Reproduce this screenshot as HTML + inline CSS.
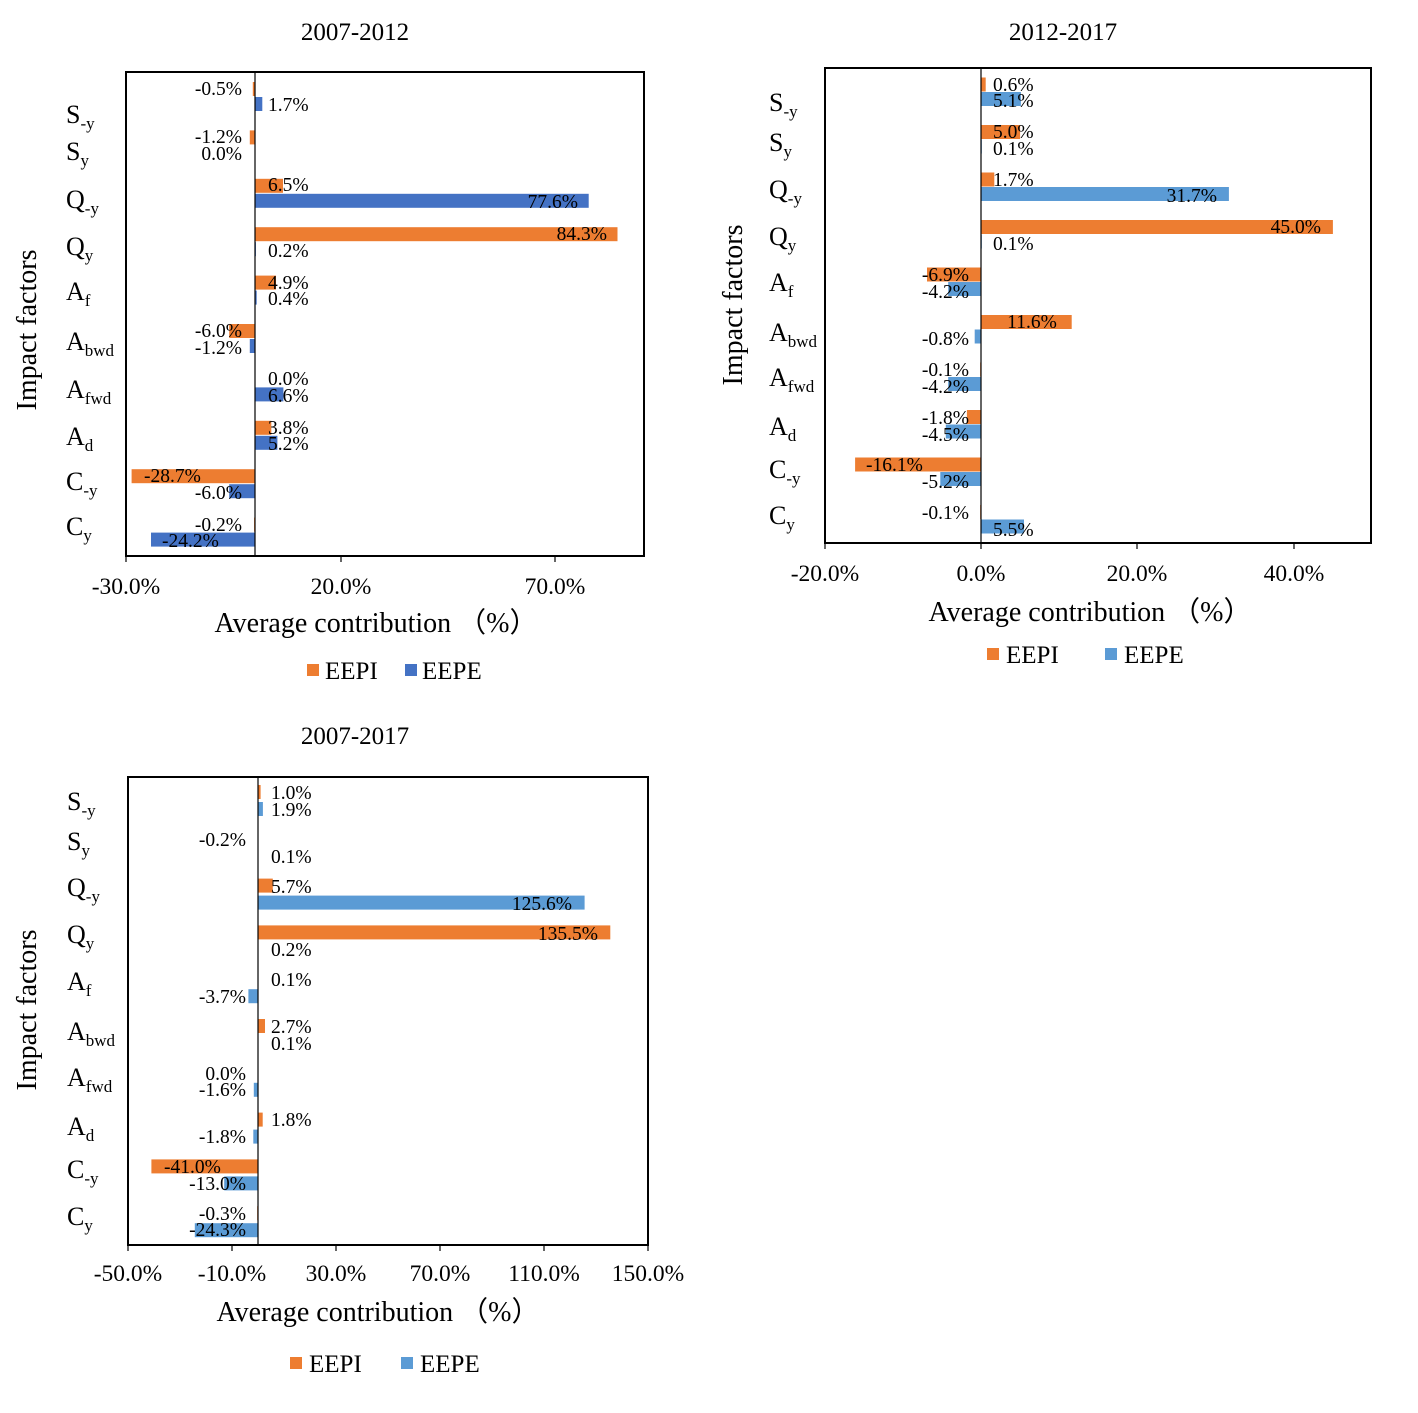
<!DOCTYPE html>
<html><head><meta charset="utf-8"><style>
html,body{margin:0;padding:0;background:#fff;}
svg{display:block;font-family:"Liberation Serif",serif;}
.d{font-size:19.5px;fill:#000}
.c{font-size:26px}
.s{font-size:17px}
.t{font-size:23.5px}
.ti{font-size:25px}
.a{font-size:28px}
.l{font-size:25px}
</style></head><body>
<svg width="1418" height="1413" viewBox="0 0 1418 1413" xmlns="http://www.w3.org/2000/svg">
<rect width="1418" height="1413" fill="#fff"/>

<!-- ================= CHART 1 ================= -->
<text x="355" y="40" class="ti" text-anchor="middle">2007-2012</text>
<g fill="#ED7D31">
<rect x="252.8" y="82" width="2.2" height="14"/>
<rect x="249.8" y="130.4" width="5.2" height="14"/>
<rect x="255" y="178.8" width="28" height="14"/>
<rect x="255" y="227.2" width="362.5" height="14"/>
<rect x="255" y="275.6" width="21" height="14"/>
<rect x="229.2" y="324" width="25.8" height="14"/>
<rect x="255" y="420.8" width="16.3" height="14"/>
<rect x="131.6" y="469.2" width="123.4" height="14"/>
<rect x="254.1" y="517.6" width="0.9" height="14"/>
</g>
<g fill="#4472C4">
<rect x="255" y="97" width="7.3" height="14"/>
<rect x="254.5" y="145.4" width="1" height="14"/>
<rect x="255" y="193.8" width="333.7" height="14"/>
<rect x="255" y="242.2" width="0.9" height="14"/>
<rect x="255" y="290.6" width="1.7" height="14"/>
<rect x="249.8" y="339" width="5.2" height="14"/>
<rect x="255" y="387.4" width="28.4" height="14"/>
<rect x="255" y="435.8" width="22.4" height="14"/>
<rect x="229.2" y="484.2" width="25.8" height="14"/>
<rect x="151" y="532.6" width="104" height="14"/>
</g>
<rect x="126" y="72" width="518" height="484" fill="none" stroke="#000" stroke-width="2"/>
<line x1="255" y1="72" x2="255" y2="556" stroke="#000" stroke-width="1.2"/>
<g stroke="#000" stroke-width="1.2"><line x1="126" y1="556" x2="126" y2="562"/><line x1="341" y1="556" x2="341" y2="562"/><line x1="555" y1="556" x2="555" y2="562"/></g>
<g class="d">
<text x="242" y="95" text-anchor="end">-0.5%</text>
<text x="268" y="111">1.7%</text>
<text x="242" y="143" text-anchor="end">-1.2%</text>
<text x="242" y="160" text-anchor="end">0.0%</text>
<text x="268" y="191">6.5%</text>
<text x="578" y="208" text-anchor="end">77.6%</text>
<text x="607" y="240" text-anchor="end">84.3%</text>
<text x="268" y="257">0.2%</text>
<text x="268" y="289">4.9%</text>
<text x="268" y="305">0.4%</text>
<text x="242" y="337" text-anchor="end">-6.0%</text>
<text x="242" y="354" text-anchor="end">-1.2%</text>
<text x="268" y="385">0.0%</text>
<text x="268" y="402">6.6%</text>
<text x="268" y="434">3.8%</text>
<text x="268" y="450">5.2%</text>
<text x="144" y="482">-28.7%</text>
<text x="242" y="499" text-anchor="end">-6.0%</text>
<text x="242" y="531" text-anchor="end">-0.2%</text>
<text x="162" y="547">-24.2%</text>
</g>
<g class="c">
<text x="66" y="123">S<tspan class="s" dy="6">-y</tspan></text>
<text x="66" y="160">S<tspan class="s" dy="6">y</tspan></text>
<text x="66" y="208">Q<tspan class="s" dy="6">-y</tspan></text>
<text x="66" y="255">Q<tspan class="s" dy="6">y</tspan></text>
<text x="66" y="300">A<tspan class="s" dy="6">f</tspan></text>
<text x="66" y="350">A<tspan class="s" dy="6">bwd</tspan></text>
<text x="66" y="398">A<tspan class="s" dy="6">fwd</tspan></text>
<text x="66" y="445">A<tspan class="s" dy="6">d</tspan></text>
<text x="66" y="490">C<tspan class="s" dy="6">-y</tspan></text>
<text x="66" y="535">C<tspan class="s" dy="6">y</tspan></text>
</g>
<text class="t" x="126" y="594" text-anchor="middle">-30.0%</text>
<text class="t" x="341" y="594" text-anchor="middle">20.0%</text>
<text class="t" x="555" y="594" text-anchor="middle">70.0%</text>
<text class="a" x="376" y="632" text-anchor="middle">Average contribution （%）</text>
<text class="a" transform="translate(36,330) rotate(-90)" text-anchor="middle">Impact factors</text>
<rect x="307" y="664" width="12" height="12" fill="#ED7D31"/><text class="l" x="325" y="679">EEPI</text>
<rect x="405" y="664" width="12" height="12" fill="#4472C4"/><text class="l" x="422" y="679">EEPE</text>

<!-- ================= CHART 2 ================= -->
<text x="1063" y="40" class="ti" text-anchor="middle">2012-2017</text>
<g fill="#ED7D31">
<rect x="981" y="77.5" width="4.7" height="14"/>
<rect x="981" y="125" width="39.1" height="14"/>
<rect x="981" y="172.5" width="13.3" height="14"/>
<rect x="981" y="220" width="351.9" height="14"/>
<rect x="927" y="267.5" width="54" height="14"/>
<rect x="981" y="315" width="90.7" height="14"/>
<rect x="980.2" y="362.5" width="0.8" height="14"/>
<rect x="966.9" y="410" width="14.1" height="14"/>
<rect x="855.1" y="457.5" width="125.9" height="14"/>
<rect x="980.2" y="505" width="0.8" height="14"/>
</g>
<g fill="#5B9BD5">
<rect x="981" y="92" width="39.9" height="14"/>
<rect x="981" y="139.5" width="0.8" height="14"/>
<rect x="981" y="187" width="247.9" height="14"/>
<rect x="981" y="234.5" width="0.8" height="14"/>
<rect x="948.2" y="282" width="32.8" height="14"/>
<rect x="974.7" y="329.5" width="6.3" height="14"/>
<rect x="948.2" y="377" width="32.8" height="14"/>
<rect x="945.8" y="424.5" width="35.2" height="14"/>
<rect x="940.3" y="472" width="40.7" height="14"/>
<rect x="981" y="519.5" width="43" height="14"/>
</g>
<rect x="825" y="68" width="546" height="475" fill="none" stroke="#000" stroke-width="2"/>
<line x1="981" y1="68" x2="981" y2="543" stroke="#000" stroke-width="1.2"/>
<g stroke="#000" stroke-width="1.2"><line x1="825" y1="543" x2="825" y2="549"/><line x1="981" y1="543" x2="981" y2="549"/><line x1="1137" y1="543" x2="1137" y2="549"/><line x1="1294" y1="543" x2="1294" y2="549"/></g>
<g class="d">
<text x="993" y="91">0.6%</text>
<text x="993" y="107">5.1%</text>
<text x="993" y="138">5.0%</text>
<text x="993" y="155">0.1%</text>
<text x="993" y="186">1.7%</text>
<text x="1217" y="202" text-anchor="end">31.7%</text>
<text x="1321" y="233" text-anchor="end">45.0%</text>
<text x="993" y="250">0.1%</text>
<text x="969" y="281" text-anchor="end">-6.9%</text>
<text x="969" y="298" text-anchor="end">-4.2%</text>
<text x="1032" y="328" text-anchor="middle">11.6%</text>
<text x="969" y="345" text-anchor="end">-0.8%</text>
<text x="969" y="376" text-anchor="end">-0.1%</text>
<text x="969" y="393" text-anchor="end">-4.2%</text>
<text x="969" y="424" text-anchor="end">-1.8%</text>
<text x="969" y="441" text-anchor="end">-4.5%</text>
<text x="866" y="471">-16.1%</text>
<text x="969" y="488" text-anchor="end">-5.2%</text>
<text x="969" y="519" text-anchor="end">-0.1%</text>
<text x="993" y="536">5.5%</text>
</g>
<g class="c">
<text x="769" y="111">S<tspan class="s" dy="6">-y</tspan></text>
<text x="769" y="151">S<tspan class="s" dy="6">y</tspan></text>
<text x="769" y="198">Q<tspan class="s" dy="6">-y</tspan></text>
<text x="769" y="245">Q<tspan class="s" dy="6">y</tspan></text>
<text x="769" y="291">A<tspan class="s" dy="6">f</tspan></text>
<text x="769" y="341">A<tspan class="s" dy="6">bwd</tspan></text>
<text x="769" y="386">A<tspan class="s" dy="6">fwd</tspan></text>
<text x="769" y="435">A<tspan class="s" dy="6">d</tspan></text>
<text x="769" y="478">C<tspan class="s" dy="6">-y</tspan></text>
<text x="769" y="524">C<tspan class="s" dy="6">y</tspan></text>
</g>
<text class="t" x="825" y="581" text-anchor="middle">-20.0%</text>
<text class="t" x="981" y="581" text-anchor="middle">0.0%</text>
<text class="t" x="1137" y="581" text-anchor="middle">20.0%</text>
<text class="t" x="1294" y="581" text-anchor="middle">40.0%</text>
<text class="a" x="1090" y="621" text-anchor="middle">Average contribution （%）</text>
<text class="a" transform="translate(742,305) rotate(-90)" text-anchor="middle">Impact factors</text>
<rect x="987" y="648" width="12" height="12" fill="#ED7D31"/><text class="l" x="1006" y="663">EEPI</text>
<rect x="1105" y="648" width="12" height="12" fill="#5B9BD5"/><text class="l" x="1124" y="663">EEPE</text>

<!-- ================= CHART 3 ================= -->
<text x="355" y="744" class="ti" text-anchor="middle">2007-2017</text>
<g fill="#ED7D31">
<rect x="258" y="785" width="2.6" height="14"/>
<rect x="257.5" y="831.8" width="0.5" height="14"/>
<rect x="258" y="878.6" width="14.8" height="14"/>
<rect x="258" y="925.4" width="352.3" height="14"/>
<rect x="258" y="972.2" width="0.3" height="14"/>
<rect x="258" y="1019" width="7" height="14"/>
<rect x="258" y="1112.6" width="4.7" height="14"/>
<rect x="151.4" y="1159.4" width="106.6" height="14"/>
<rect x="257.2" y="1206.2" width="0.8" height="14"/>
</g>
<g fill="#5B9BD5">
<rect x="258" y="802" width="4.9" height="14"/>
<rect x="258" y="848.8" width="0.3" height="14"/>
<rect x="258" y="895.6" width="326.6" height="14"/>
<rect x="258" y="942.4" width="0.5" height="14"/>
<rect x="248.4" y="989.2" width="9.6" height="14"/>
<rect x="258" y="1036" width="0.3" height="14"/>
<rect x="253.8" y="1082.8" width="4.2" height="14"/>
<rect x="253.3" y="1129.6" width="4.7" height="14"/>
<rect x="224.2" y="1176.4" width="33.8" height="14"/>
<rect x="194.8" y="1223.2" width="63.2" height="14"/>
</g>
<rect x="128" y="777" width="520" height="468" fill="none" stroke="#000" stroke-width="2"/>
<line x1="258" y1="777" x2="258" y2="1245" stroke="#000" stroke-width="1.2"/>
<g stroke="#000" stroke-width="1.2"><line x1="128" y1="1245" x2="128" y2="1251"/><line x1="232" y1="1245" x2="232" y2="1251"/><line x1="336" y1="1245" x2="336" y2="1251"/><line x1="440" y1="1245" x2="440" y2="1251"/><line x1="544" y1="1245" x2="544" y2="1251"/><line x1="648" y1="1245" x2="648" y2="1251"/></g>
<g class="d">
<text x="271" y="799">1.0%</text>
<text x="271" y="816">1.9%</text>
<text x="246" y="846" text-anchor="end">-0.2%</text>
<text x="271" y="863">0.1%</text>
<text x="271" y="893">5.7%</text>
<text x="572" y="910" text-anchor="end">125.6%</text>
<text x="598" y="940" text-anchor="end">135.5%</text>
<text x="271" y="956">0.2%</text>
<text x="271" y="986">0.1%</text>
<text x="246" y="1003" text-anchor="end">-3.7%</text>
<text x="271" y="1033">2.7%</text>
<text x="271" y="1050">0.1%</text>
<text x="246" y="1080" text-anchor="end">0.0%</text>
<text x="246" y="1096" text-anchor="end">-1.6%</text>
<text x="271" y="1126">1.8%</text>
<text x="246" y="1143" text-anchor="end">-1.8%</text>
<text x="164" y="1173">-41.0%</text>
<text x="246" y="1190" text-anchor="end">-13.0%</text>
<text x="246" y="1220" text-anchor="end">-0.3%</text>
<text x="246" y="1236" text-anchor="end">-24.3%</text>
</g>
<g class="c">
<text x="67" y="810">S<tspan class="s" dy="6">-y</tspan></text>
<text x="67" y="850">S<tspan class="s" dy="6">y</tspan></text>
<text x="67" y="896">Q<tspan class="s" dy="6">-y</tspan></text>
<text x="67" y="943">Q<tspan class="s" dy="6">y</tspan></text>
<text x="67" y="990">A<tspan class="s" dy="6">f</tspan></text>
<text x="67" y="1040">A<tspan class="s" dy="6">bwd</tspan></text>
<text x="67" y="1086">A<tspan class="s" dy="6">fwd</tspan></text>
<text x="67" y="1135">A<tspan class="s" dy="6">d</tspan></text>
<text x="67" y="1178">C<tspan class="s" dy="6">-y</tspan></text>
<text x="67" y="1225">C<tspan class="s" dy="6">y</tspan></text>
</g>
<text class="t" x="128" y="1281" text-anchor="middle">-50.0%</text>
<text class="t" x="232" y="1281" text-anchor="middle">-10.0%</text>
<text class="t" x="336" y="1281" text-anchor="middle">30.0%</text>
<text class="t" x="440" y="1281" text-anchor="middle">70.0%</text>
<text class="t" x="544" y="1281" text-anchor="middle">110.0%</text>
<text class="t" x="648" y="1281" text-anchor="middle">150.0%</text>
<text class="a" x="378" y="1321" text-anchor="middle">Average contribution （%）</text>
<text class="a" transform="translate(36,1010) rotate(-90)" text-anchor="middle">Impact factors</text>
<rect x="290" y="1357" width="12" height="12" fill="#ED7D31"/><text class="l" x="309" y="1372">EEPI</text>
<rect x="401" y="1357" width="12" height="12" fill="#5B9BD5"/><text class="l" x="420" y="1372">EEPE</text>
</svg>
</body></html>
